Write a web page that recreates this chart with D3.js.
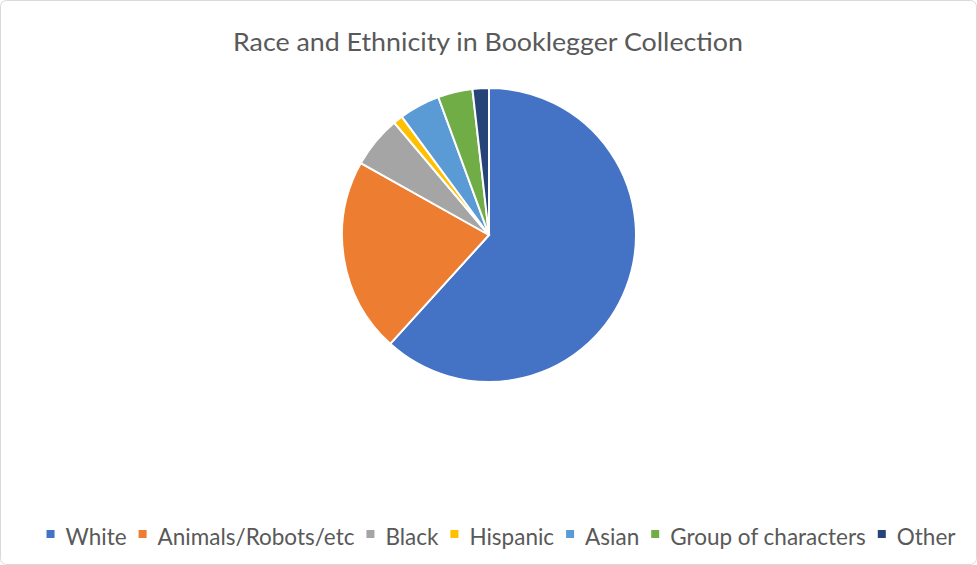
<!DOCTYPE html>
<html>
<head>
    <title>Race and Ethnicity in Booklegger Collection</title>
    <script src="https://d3js.org/d3.v7.min.js"></script>
    <style>
        body { margin: 0; background: #fff; }
        text { font-family: Lato, "Open Sans", sans-serif; fill: #595959; }
    </style>
</head>
<body>
    <div id="chart"></div>
    <script>
        const categories = ["White", "Animals/Robots/etc", "Black", "Hispanic", "Asian", "Group of characters", "Other"];
        const values = [61.7, 21.4, 5.7, 1.05, 4.5, 3.8, 1.8];
        const colors = ["#4472c4", "#ed7d31", "#a5a5a5", "#ffc000", "#5b9bd5", "#70ad47", "#264478"];

        const width = 977, height = 565;
        const svg = d3.select("#chart").append("svg")
            .attr("width", width)
            .attr("height", height);

        svg.append("rect")
            .attr("x", 0.5).attr("y", 0.5)
            .attr("width", width - 1).attr("height", height - 1)
            .attr("rx", 6)
            .attr("fill", "#fff")
            .attr("stroke", "#d9d9d9");

        svg.append("text")
            .attr("x", 488).attr("y", 51)
            .attr("text-anchor", "middle")
            .attr("textLength", 510)
            .attr("lengthAdjust", "spacingAndGlyphs")
            .style("font-size", "25px")
            .text("Race and Ethnicity in Booklegger Collection");

        const color = d3.scaleOrdinal().domain(categories).range(colors);
        const pie = d3.pie().sort(null).value(d => d.value);
        const arc = d3.arc().innerRadius(0).outerRadius(147);
        const data = categories.map((c, i) => ({ name: c, value: values[i] }));

        svg.append("g")
            .attr("transform", "translate(489,235)")
            .selectAll("path")
            .data(pie(data))
            .join("path")
            .attr("d", arc)
            .attr("fill", d => color(d.data.name))
            .attr("stroke", "#fff")
            .attr("stroke-width", 2);

        // legend in one row
        const legend = svg.append("g");
        const items = legend.selectAll("g")
            .data(categories)
            .join("g");
        items.append("rect")
            .attr("width", 8).attr("height", 8)
            .attr("y", -15)
            .attr("fill", d => color(d));
        items.append("text")
            .attr("x", 19)
            .style("font-size", "22.5px")
            .text(d => d);

        let x = 0;
        items.each(function () {
            const w = d3.select(this).select("text").node().getComputedTextLength();
            d3.select(this).attr("transform", `translate(${x},0)`);
            x += 19 + w + 12;
        });
        const total = x - 12;
        legend.attr("transform", `translate(${501 - total / 2},545)`);
    </script>
</body>
</html>
